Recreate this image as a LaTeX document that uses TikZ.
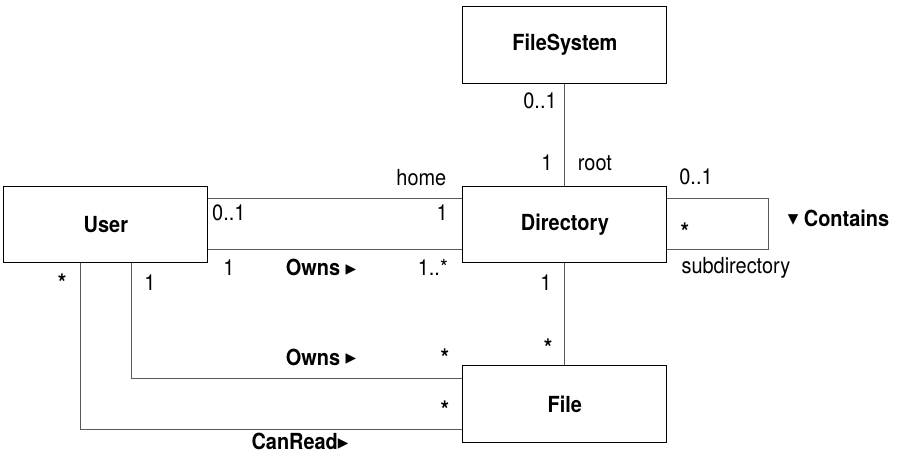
\documentclass[tikz,border=0pt]{standalone}
\usepackage{fontspec}
\setmainfont{TeX Gyre Heros}[FakeStretch=0.9]
\newfontfamily\symfont{DejaVu Sans}
\usetikzlibrary{positioning,calc}
\newcommand{\rtri}{\raisebox{0.12em}{\symfont\fontsize{13}{13}\selectfont ▶}}
\newcommand{\dtri}{\raisebox{0.12em}{\symfont\fontsize{13}{13}\selectfont ▼}}

\begin{document}
\begin{tikzpicture}[
	class/.style={draw, line width=0.9pt, fill=white, minimum width=6.8cm, minimum height=2.55cm, font=\fontsize{21}{24}\selectfont\bfseries},
	assoc/.style={draw=black!65, line width=0.9pt},
	assocname/.style={font=\fontsize{21}{24}\selectfont\bfseries},
	star/.style={font=\fontsize{23}{24}\selectfont\bfseries},
	every node/.style={font=\fontsize{21}{24}\selectfont},
	]
	\useasboundingbox (0,0) rectangle (30,-15.233);
	% classes
	\node[class] (fs) at (18.83,-1.5) {FileSystem};
	\node[class, below=3.4cm of fs] (dir) {Directory};
	\node[class, left=8.47cm of dir] (user) {User};
	\node[class, below=3.4cm of dir] (file) {File};
	% associations
	\draw[assoc] (fs) -- (dir);
	\draw[assoc] (dir) -- (file);
	\draw[assoc] ([yshift=0.85cm]user.east) -- ([yshift=0.85cm]dir.west);
	\draw[assoc] ([yshift=-0.85cm]user.east) -- ([yshift=-0.85cm]dir.west);
	\draw[assoc] ([yshift=0.85cm]dir.east) -- ++(3.37,0) |- ([yshift=-0.85cm]dir.east);
	\draw[assoc] ([xshift=0.85cm]user.south) |- ([yshift=0.85cm]file.west);
	\draw[assoc] ([xshift=-0.85cm]user.south) |- ([yshift=-0.85cm]file.west);
	% roles and multiplicities
	\node (fs-m) at (18.0,-3.37) {0..1};
	\node (root-m) at (18.23,-5.43) {1};
	\node (root) at (19.83,-5.43) {root};
	\node[anchor=east] (home) at (15.0,-5.93) {home};
	\node[anchor=west] (home-u) at (6.95,-7.1) {0..1};
	\node[anchor=east] (home-d) at (15.05,-7.1) {1};
	\node (owns-u) at (7.63,-8.93) {1};
	\node[assocname] (owns) at (10.7,-8.93) {Owns \rtri};
	\node[anchor=east] (owns-d) at (15.05,-8.93) {1..*};
	\node (sub-top) at (23.2,-5.9) {0..1};
	\node[star] (sub-bot) at (22.83,-7.73) {*};
	\node (sub) at (24.53,-8.93) {subdirectory};
	\node[assocname] (contains) at (27.95,-7.27) {\dtri\ Contains};
	\node[star] (read-u) at (2.07,-9.43) {*};
	\node (ownf-u) at (5.0,-9.43) {1};
	\node (dir-f) at (18.2,-9.43) {1};
	\node[star] (file-d) at (18.27,-11.6) {*};
	\node[assocname] (ownsf) at (10.7,-11.9) {Owns \rtri};
	\node[star] (ownsf-f) at (14.83,-11.93) {*};
	\node[star] (read-f) at (14.83,-13.67) {*};
	\node[assocname] (canread) at (10.0,-14.73) {CanRead\rtri};
\end{tikzpicture}
\end{document}
